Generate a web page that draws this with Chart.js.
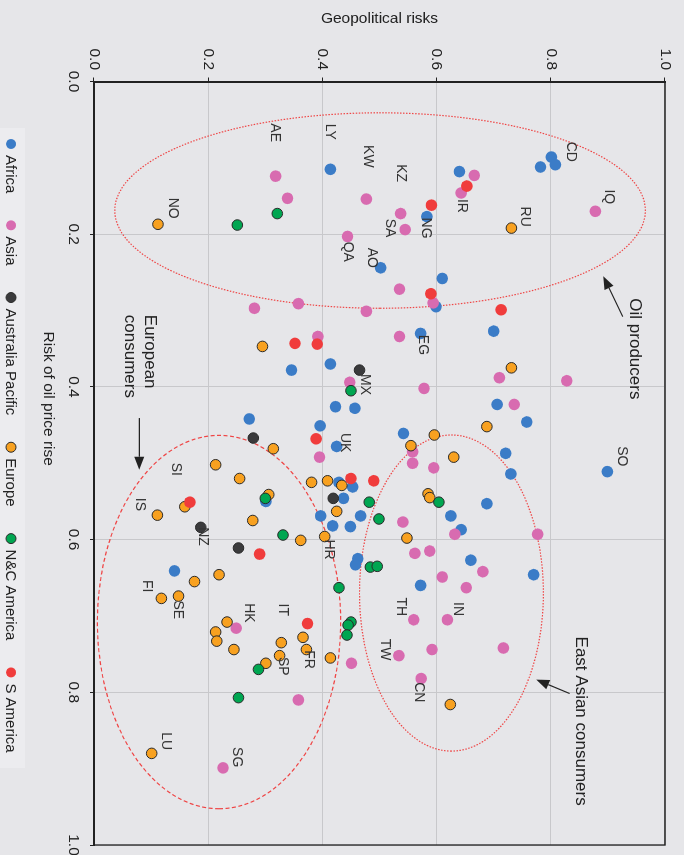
<!DOCTYPE html>
<html>
<head>
<meta charset="utf-8">
<title>Oil price risk vs geopolitical risk</title>
<script src="https://cdn.jsdelivr.net/npm/chart.js@4.4.1/dist/chart.umd.min.js"></script>
<style>
    html, body { margin: 0; padding: 0; overflow: hidden; background: #e6e6e9; }
    /* the chart is laid out landscape and turned a quarter clockwise */
    #wrap {
        position: absolute; left: 0; top: 0; width: 855px; height: 684px;
        transform-origin: 0 0; transform: translate(684px, 0) rotate(90deg);
    }
</style>
</head>
<body>
<div id="wrap"><canvas id="myChart" width="855" height="684"></canvas></div>
<script>
// x = risk of oil price rise, y = geopolitical risks
const regions = ["Africa", "Asia", "Australia Pacific", "Europe", "N&C America", "S America"];

const africaRisk = [0.115, 0.099, 0.109, 0.112, 0.118, 0.177, 0.244, 0.258, 0.295, 0.327, 0.330, 0.370, 0.378, 0.426, 0.428, 0.423, 0.446, 0.442, 0.451, 0.478, 0.461, 0.487, 0.514, 0.511, 0.525, 0.531, 0.550, 0.546, 0.553, 0.569, 0.582, 0.569, 0.583, 0.569, 0.587, 0.625, 0.633, 0.641, 0.627, 0.646, 0.660];
const africaGeo  = [0.414, 0.801, 0.808, 0.782, 0.640, 0.583, 0.502, 0.610, 0.599, 0.700, 0.572, 0.414, 0.346, 0.423, 0.457, 0.706, 0.758, 0.272, 0.396, 0.425, 0.542, 0.721, 0.730, 0.899, 0.429, 0.453, 0.301, 0.437, 0.688, 0.397, 0.418, 0.467, 0.449, 0.625, 0.643, 0.462, 0.458, 0.141, 0.660, 0.770, 0.572];

const asiaRisk = [0.124, 0.153, 0.154, 0.203, 0.123, 0.146, 0.170, 0.173, 0.194, 0.297, 0.291, 0.301, 0.272, 0.290, 0.334, 0.334, 0.394, 0.388, 0.392, 0.402, 0.423, 0.492, 0.485, 0.500, 0.506, 0.577, 0.593, 0.593, 0.618, 0.615, 0.642, 0.649, 0.663, 0.705, 0.705, 0.744, 0.742, 0.752, 0.782, 0.762, 0.716, 0.810, 0.899];
const asiaGeo  = [0.318, 0.339, 0.477, 0.444, 0.666, 0.643, 0.878, 0.537, 0.545, 0.281, 0.358, 0.477, 0.535, 0.594, 0.392, 0.535, 0.448, 0.710, 0.828, 0.578, 0.736, 0.395, 0.558, 0.558, 0.595, 0.541, 0.632, 0.777, 0.562, 0.588, 0.681, 0.610, 0.652, 0.560, 0.619, 0.592, 0.717, 0.534, 0.573, 0.451, 0.249, 0.358, 0.226];

const pacificRisk = [0.378, 0.467, 0.546, 0.584, 0.611];
const pacificGeo  = [0.465, 0.279, 0.419, 0.187, 0.253];

const europeRisk = [0.187, 0.192, 0.347, 0.375, 0.452, 0.463, 0.477, 0.492, 0.481, 0.502, 0.520, 0.525, 0.523, 0.529, 0.541, 0.557, 0.568, 0.563, 0.575, 0.601, 0.596, 0.540, 0.545, 0.598, 0.655, 0.646, 0.677, 0.674, 0.728, 0.744, 0.755, 0.708, 0.721, 0.733, 0.744, 0.735, 0.752, 0.762, 0.880, 0.816];
const europeGeo  = [0.112, 0.731, 0.295, 0.731, 0.688, 0.596, 0.555, 0.630, 0.314, 0.213, 0.255, 0.381, 0.409, 0.434, 0.306, 0.159, 0.111, 0.425, 0.278, 0.362, 0.404, 0.585, 0.588, 0.548, 0.176, 0.219, 0.118, 0.148, 0.366, 0.372, 0.414, 0.233, 0.213, 0.215, 0.245, 0.328, 0.325, 0.301, 0.101, 0.624];

const ncAmericaRisk = [0.173, 0.188, 0.405, 0.546, 0.551, 0.573, 0.551, 0.594, 0.636, 0.635, 0.663, 0.708, 0.712, 0.725, 0.770, 0.807];
const ncAmericaGeo  = [0.321, 0.251, 0.450, 0.300, 0.482, 0.499, 0.604, 0.331, 0.484, 0.496, 0.429, 0.450, 0.445, 0.443, 0.288, 0.253];

const sAmericaRisk = [0.137, 0.162, 0.278, 0.299, 0.343, 0.344, 0.468, 0.520, 0.523, 0.551, 0.619, 0.710];
const sAmericaGeo  = [0.653, 0.591, 0.590, 0.713, 0.352, 0.391, 0.389, 0.450, 0.490, 0.168, 0.290, 0.374];

// country codes written next to the points
const labelCodes = ["CD", "IQ", "RU", "IR", "NG", "KZ", "SA", "KW", "LY", "AE", "NO", "QA", "AO", "EG", "MX", "UK", "SO", "SI", "IS", "NZ", "HR", "FI", "SE", "HK", "IT", "FR", "SP", "TH", "IN", "TW", "CN", "LU", "SG"];
const labelRisk  = [0.092, 0.151, 0.177, 0.163, 0.192, 0.120, 0.192, 0.098, 0.066, 0.067, 0.166, 0.223, 0.231, 0.345, 0.397, 0.473, 0.491, 0.508, 0.554, 0.596, 0.613, 0.661, 0.692, 0.696, 0.692, 0.757, 0.766, 0.688, 0.691, 0.744, 0.800, 0.864, 0.885];
const labelGeo   = [0.836, 0.901, 0.754, 0.645, 0.582, 0.537, 0.519, 0.479, 0.413, 0.317, 0.138, 0.444, 0.486, 0.576, 0.474, 0.439, 0.924, 0.143, 0.080, 0.190, 0.412, 0.092, 0.146, 0.272, 0.331, 0.376, 0.330, 0.537, 0.637, 0.509, 0.569, 0.126, 0.251];

// groups circled on the chart: centre and half widths in data units
const groupNames = ["Oil producers", "European consumers", "East Asian consumers"];
const groupRisk  = [0.169, 0.708, 0.670];
const groupGeo   = [0.501, 0.219, 0.626];
const groupRiskHalf = [0.128, 0.2445, 0.207];
const groupGeoHalf  = [0.4646, 0.213, 0.161];

const FONT = "'Liberation Sans', Arial, sans-serif";
const TEXT = "#222222";
const colors = ["#3b7cc7", "#d86bb0", "#3a3a3c", "#f8a120", "#00a651", "#f03c3c"];
const outlined = [false, false, true, true, true, false];

function toPoints(risk, geo) {
    return risk.map((r, i) => ({ x: r, y: geo[i] }));
}

const riskSets = [africaRisk, asiaRisk, pacificRisk, europeRisk, ncAmericaRisk, sAmericaRisk];
const geoSets = [africaGeo, asiaGeo, pacificGeo, europeGeo, ncAmericaGeo, sAmericaGeo];

const datasets = regions.map((name, i) => ({
    label: name,
    data: toPoints(riskSets[i], geoSets[i]),
    backgroundColor: colors[i],
    borderColor: outlined[i] ? "#2a2a2a" : colors[i],
    borderWidth: outlined[i] ? 1 : 0,
    pointRadius: outlined[i] ? 5.3 : 5.8,
    order: regions.length - i
}));

function arrow(ctx, x1, y1, x2, y2) {
    const a = Math.atan2(y2 - y1, x2 - x1);
    const len = 13, half = 5;
    ctx.beginPath();
    ctx.moveTo(x1, y1);
    ctx.lineTo(x2 - Math.cos(a) * len, y2 - Math.sin(a) * len);
    ctx.stroke();
    ctx.beginPath();
    ctx.moveTo(x2, y2);
    ctx.lineTo(x2 - Math.cos(a) * len - Math.sin(a) * half, y2 - Math.sin(a) * len + Math.cos(a) * half);
    ctx.lineTo(x2 - Math.cos(a) * len + Math.sin(a) * half, y2 - Math.sin(a) * len - Math.cos(a) * half);
    ctx.closePath();
    ctx.fill();
}

const decorations = {
    id: "decorations",
    beforeDraw(chart) {
        const ctx = chart.ctx;
        ctx.save();
        ctx.fillStyle = "#e6e6e9";
        ctx.fillRect(0, 0, chart.width, chart.height);
        ctx.restore();
    },
    beforeDatasetsDraw(chart) {
        const { ctx, scales: { x, y } } = chart;
        const dashes = [[1.5, 1.5], [4, 2.5], [1.5, 1.5]];
        ctx.save();
        ctx.strokeStyle = "#ef4545";
        ctx.lineWidth = 1.2;
        groupNames.forEach((g, i) => {
            const cx = x.getPixelForValue(groupRisk[i]);
            const cy = y.getPixelForValue(groupGeo[i]);
            const rx = Math.abs(x.getPixelForValue(groupRisk[i] + groupRiskHalf[i]) - cx);
            const ry = Math.abs(y.getPixelForValue(groupGeo[i] + groupGeoHalf[i]) - cy);
            ctx.setLineDash(dashes[i]);
            ctx.beginPath();
            ctx.ellipse(cx, cy, rx, ry, 0, 0, Math.PI * 2);
            ctx.stroke();
        });
        ctx.restore();
    },
    afterDatasetsDraw(chart) {
        const { ctx, chartArea: area, scales: { x, y } } = chart;
        const px = v => x.getPixelForValue(v);
        const py = v => y.getPixelForValue(v);
        ctx.save();

        // closing lines of the plot frame
        ctx.strokeStyle = TEXT;
        ctx.lineWidth = 1.3;
        ctx.beginPath();
        ctx.moveTo(area.left, area.top);
        ctx.lineTo(area.right, area.top);
        ctx.lineTo(area.right, area.bottom);
        ctx.stroke();

        // country codes
        ctx.fillStyle = "#333333";
        ctx.font = "14px " + FONT;
        ctx.textAlign = "center";
        ctx.textBaseline = "middle";
        labelCodes.forEach((c, i) => ctx.fillText(c, px(labelRisk[i]), py(labelGeo[i])));

        // group notes and arrows
        ctx.fillStyle = TEXT;
        ctx.font = "17px " + FONT;
        ctx.textAlign = "left";
        ctx.textBaseline = "alphabetic";
        ctx.fillText("Oil producers", px(0.284), py(0.938));
        ctx.fillText("European", px(0.3056), py(0.090));
        ctx.fillText("consumers", px(0.3056), py(0.054));
        ctx.fillText("East Asian consumers", px(0.727), py(0.8434));

        ctx.strokeStyle = TEXT;
        ctx.lineWidth = 1.2;
        arrow(ctx, px(0.308), py(0.926), px(0.255), py(0.892));
        arrow(ctx, px(0.4408), py(0.0793), px(0.5085), py(0.0793));
        arrow(ctx, px(0.8016), py(0.833), px(0.7834), py(0.7746));

        // x axis title
        ctx.font = "15.5px " + FONT;
        ctx.textAlign = "center";
        ctx.textBaseline = "middle";
        ctx.fillText("Risk of oil price rise", 398.7, 635.5);

        // legend
        ctx.fillStyle = "#ececef";
        ctx.fillRect(128, 659, 640, 25);
        ctx.font = "15px " + FONT;
        ctx.textAlign = "left";
        let lx = 139;
        const ly = 673;
        chart.data.datasets.forEach(ds => {
            ctx.beginPath();
            ctx.arc(lx + 5, ly, 5, 0, Math.PI * 2);
            ctx.fillStyle = ds.backgroundColor;
            ctx.fill();
            if (ds.borderWidth) {
                ctx.lineWidth = 1;
                ctx.strokeStyle = ds.borderColor;
                ctx.stroke();
            }
            ctx.fillStyle = TEXT;
            ctx.fillText(ds.label, lx + 16, ly + 0.5);
            lx += 16 + ctx.measureText(ds.label).width + 27;
        });
        ctx.restore();
    }
};

new Chart("myChart", {
    type: "scatter",
    data: { datasets: datasets },
    options: {
        responsive: false,
        animation: false,
        devicePixelRatio: 1,
        layout: { padding: { top: 19, right: 10, left: 0, bottom: 0 } },
        plugins: {
            legend: { display: false },
            tooltip: { enabled: false }
        },
        scales: {
            x: {
                type: "linear",
                position: "bottom",
                min: 0,
                max: 1,
                ticks: {
                    stepSize: 0.2,
                    padding: 7,
                    maxRotation: 0,
                    color: TEXT,
                    font: { family: FONT, size: 15.5 },
                    callback: v => v.toFixed(1)
                },
                grid: { color: "#c8c8cb", lineWidth: 1, tickLength: 4, tickColor: TEXT },
                border: { color: TEXT, width: 2 },
                afterFit(scale) {
                    scale.height = 94;
                    scale.paddingLeft = 0;
                    scale.paddingRight = 0;
                }
            },
            y: {
                type: "linear",
                min: 0,
                max: 1,
                ticks: {
                    stepSize: 0.2,
                    padding: 7.5,
                    color: TEXT,
                    font: { family: FONT, size: 15.5 },
                    callback: v => v.toFixed(1)
                },
                grid: { color: "#c8c8cb", lineWidth: 1, tickLength: 4, tickColor: TEXT },
                border: { color: TEXT, width: 2 },
                title: {
                    display: true,
                    text: "Geopolitical risks",
                    color: TEXT,
                    font: { family: FONT, size: 15.5 },
                    padding: { top: 9, bottom: 0 }
                },
                afterFit(scale) {
                    scale.width = 81.5;
                    scale.paddingTop = 0;
                    scale.paddingBottom = 0;
                }
            }
        }
    },
    plugins: [decorations]
});
</script>
</body>
</html>
